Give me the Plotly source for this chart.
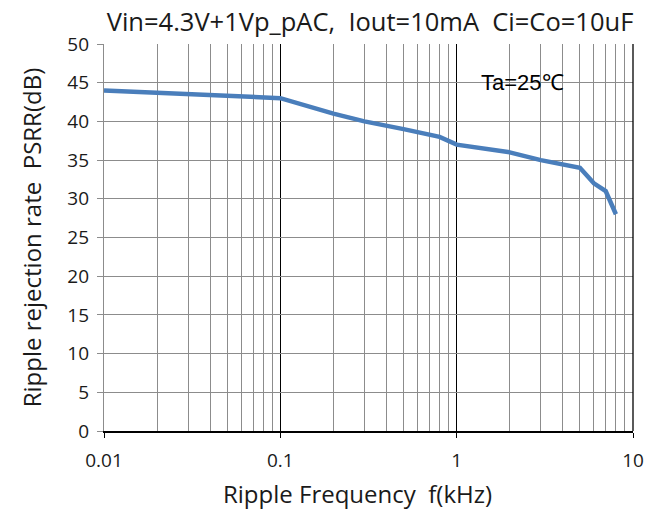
import plotly.graph_objects as go

freq_khz = [0.01, 0.1, 0.2, 0.3, 0.5, 0.8, 1, 2, 3, 4, 5, 6, 7, 8]
psrr_db = [44, 43, 41, 40, 39, 38, 37, 36, 35, 34.5, 34, 32, 31, 28]
x_ticks = [0.01, 0.1, 1, 10]
x_tick_labels = ["0.01", "0.1", "1", "10"]
y_ticks = [0, 5, 10, 15, 20, 25, 30, 35, 40, 45, 50]

font_family = "Open Sans, Noto Sans, DejaVu Sans"

# plot-area pixel geometry used to place free-standing texts
PL, PR, PT, PB = 104, 633, 44, 431

def px_to_paper(px, py):
    return (px - PL) / (PR - PL), (PB - py) / (PB - PT)

fig = go.Figure()
fig.add_trace(go.Scatter(
    x=freq_khz, y=psrr_db, mode="lines",
    line=dict(color="#4a7ebb", width=4.5),
    showlegend=False,
))

ta_x, ta_y = px_to_paper(522, 82)
xt_x, xt_y = px_to_paper(357, 493)

fig.update_layout(
    width=660, height=511,
    margin=dict(l=PL, r=660 - PR, t=PT, b=511 - PB, autoexpand=False),
    paper_bgcolor="white", plot_bgcolor="white",
    font=dict(family=font_family, color="#1a1a1a"),
    title=dict(
        text="Vin=4.3V+1Vp_pAC,  Iout=10mA  Ci=Co=10uF",
        x=370 / 660, xanchor="center", y=1 - 22 / 511, yanchor="middle",
        font=dict(size=25.5, family=font_family),
    ),
    xaxis=dict(
        type="log", range=[-2, 1], automargin=False,
        tickvals=x_ticks, ticktext=x_tick_labels,
        tickfont=dict(size=19),
        showgrid=True, gridcolor="#000000", gridwidth=1.3,
        showline=True, linecolor="#000000", linewidth=1.5,
        ticks="outside", ticklen=5, tickcolor="#000000",
        ticklabelstandoff=6,
        minor=dict(dtick="D1", showgrid=True, gridcolor="#8c8c8c", gridwidth=1, ticks=""),
        zeroline=False, mirror=False,
    ),
    yaxis=dict(
        range=[0, 50], tickvals=y_ticks, automargin=False,
        tickfont=dict(size=19),
        showgrid=True, gridcolor="#8c8c8c", gridwidth=1,
        showline=True, linecolor="#8c8c8c", linewidth=1.2,
        ticks="outside", ticklen=6, tickcolor="#8c8c8c",
        ticklabelstandoff=4,
        zeroline=False,
        title=dict(text="Ripple rejection rate  PSRR(dB)", font=dict(size=24), standoff=18),
    ),
    shapes=[dict(
        type="line", xref="paper", yref="paper", x0=1, x1=1, y0=0, y1=1,
        line=dict(color="#000000", width=1.3),
    )],
    annotations=[
        dict(
            text="Ta=25℃", x=ta_x, y=ta_y,
            xref="paper", yref="paper", xanchor="center", yanchor="middle", showarrow=False,
            font=dict(size=22, family="Liberation Sans, Arial", color="#000000"),
        ),
        dict(
            text="Ripple Frequency  f(kHz)", x=xt_x, y=xt_y,
            xref="paper", yref="paper", xanchor="center", yanchor="middle", showarrow=False,
            font=dict(size=24, family=font_family, color="#1a1a1a"),
        ),
    ],
)

fig.write_html("out.html")
